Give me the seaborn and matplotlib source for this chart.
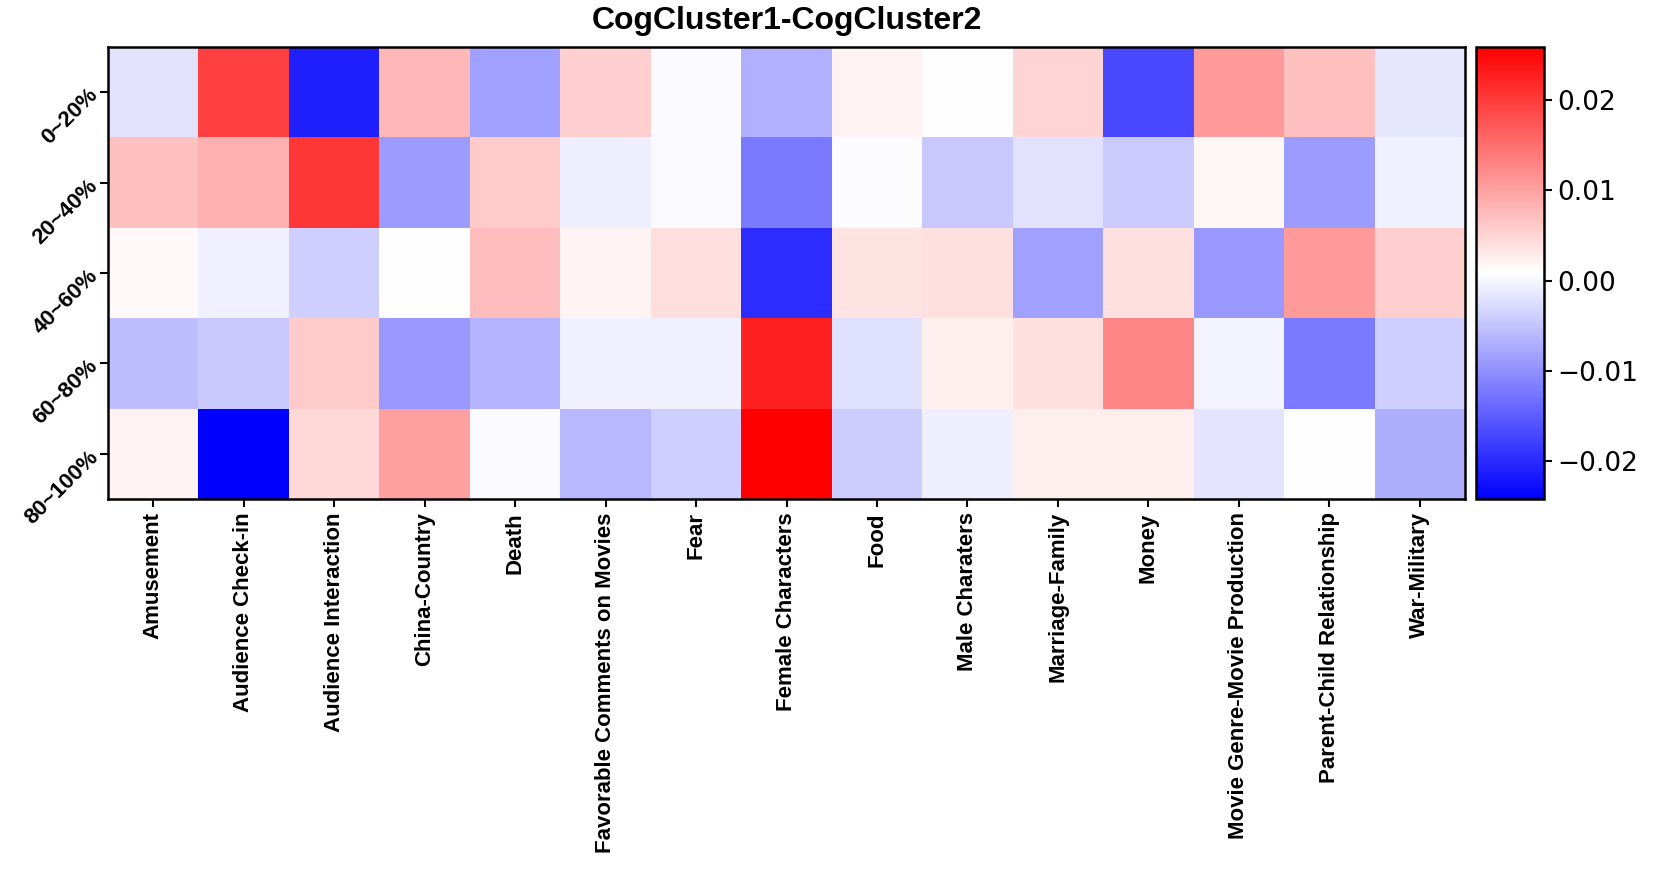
import numpy as np
import pandas as pd
import matplotlib
matplotlib.use("Agg")
import matplotlib.pyplot as plt
import seaborn as sns

topics = ["Amusement", "Audience Check-in", "Audience Interaction", "China-Country",
          "Death", "Favorable Comments on Movies", "Fear", "Female Characters", "Food",
          "Male Charaters", "Marriage-Family", "Money", "Movie Genre-Movie Production",
          "Parent-Child Relationship", "War-Military"]
stages = ["0~20%", "20~40%", "40~60%", "60~80%", "80~100%"]

# difference CogCluster1 - CogCluster2, one list per stage
row_0_20 = [-0.0020, 0.0195, -0.0210, 0.0077, -0.0085, 0.0056, 0.0003, -0.0068,
            0.0021, 0.0008, 0.0050, -0.0170, 0.0108, 0.0071, -0.0015]
row_20_40 = [0.0071, 0.0086, 0.0206, -0.0089, 0.0060, -0.0009, 0.0003, -0.0122,
             0.0005, -0.0045, -0.0019, -0.0043, 0.0017, -0.0089, -0.0007]
row_40_60 = [0.0016, -0.0007, -0.0039, 0.0008, 0.0074, 0.0019, 0.0041, -0.0198,
             0.0037, 0.0039, -0.0085, 0.0039, -0.0092, 0.0108, 0.0056]
row_60_80 = [-0.0056, -0.0045, 0.0060, -0.0092, -0.0064, -0.0007, -0.0007, 0.0226,
             -0.0022, 0.0023, 0.0039, 0.0126, -0.0002, -0.0122, -0.0039]
row_80_100 = [0.0021, -0.0242, 0.0046, 0.0101, 0.0003, -0.0060, -0.0039, 0.0259,
              -0.0042, -0.0009, 0.0025, 0.0025, -0.0017, 0.0008, -0.0071]

df = pd.DataFrame([row_0_20, row_20_40, row_40_60, row_60_80, row_80_100],
                  index=stages, columns=topics)

fig = plt.figure(figsize=(16.53, 8.69), dpi=100)
ax = fig.add_axes([108 / 1653, 1 - 499 / 869, 1357 / 1653, 452 / 869])
cax = fig.add_axes([1476 / 1653, 1 - 499 / 869, 68 / 1653, 452 / 869])

sns.heatmap(df, cmap="bwr", vmin=df.values.min(), vmax=df.values.max(),
            ax=ax, cbar_ax=cax, linewidths=0)

for s in ax.spines.values():
    s.set_visible(True)
    s.set_linewidth(1.8)
    s.set_color("black")
cb = ax.collections[0].colorbar
cb.outline.set_visible(True)
cb.outline.set_linewidth(1.8)
cb.outline.set_edgecolor("black")
cb.set_ticks([-0.02, -0.01, 0.0, 0.01, 0.02])
cb.set_ticklabels(["\u22120.02", "\u22120.01", "0.00", "0.01", "0.02"])
cax.tick_params(labelsize=19, length=6, width=1.5)

ax.tick_params(axis="both", length=6, width=1.5)
ax.set_xticklabels(topics, rotation=90, fontsize=16, fontweight="bold",
                   family="Liberation Sans")
ax.set_yticklabels(stages, rotation=45, fontsize=16, fontweight="bold",
                   family="Liberation Sans", ha="right", va="center",
                   rotation_mode="anchor")
ax.set_xlabel("")
ax.set_ylabel("")
ax.set_title("CogCluster1-CogCluster2", fontsize=23, fontweight="bold",
             family="Liberation Sans", pad=13)

fig.savefig("out.png", dpi=100)
